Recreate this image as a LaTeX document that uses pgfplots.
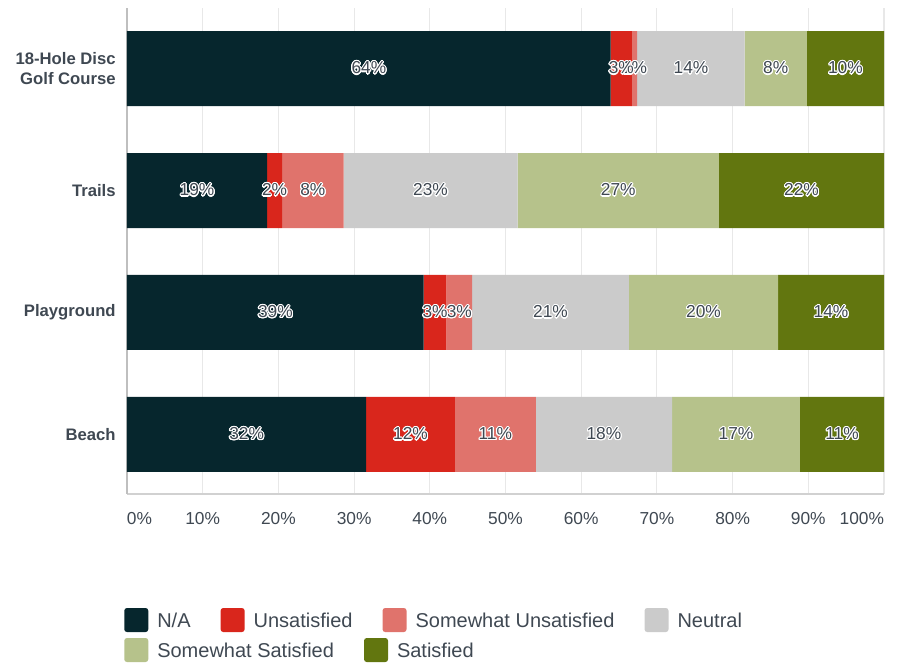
\documentclass[border=0pt]{standalone}
\usepackage{pgfplots}
\pgfplotsset{compat=1.18}
\usepackage{pgfplotstable}
\usepackage{fontspec}
\setmainfont{Liberation Sans}
\usepackage{contour}
\contourlength{0.8pt}
\contournumber{20}

\definecolor{cNA}{HTML}{06262D}
\definecolor{cUns}{HTML}{D9261C}
\definecolor{cSUn}{HTML}{E0736C}
\definecolor{cNeu}{HTML}{CBCBCB}
\definecolor{cSSa}{HTML}{B6C28B}
\definecolor{cSat}{HTML}{62760F}
\definecolor{txt}{HTML}{3F4852}
\definecolor{gridc}{HTML}{E8E8E8}

% share of answers per facility, in percent
\pgfplotstableread{
idx na   uns  sun  neu  ssa  sat
0   63.9 2.8  0.7  14.2 8.2  10.2
1   18.5 2.0  8.1  23.0 26.6 21.8
2   39.2 3.0  3.4  20.7 19.7 14.0
3   31.6 11.7 10.7 18.0 16.9 11.1
}\survey

\pgfplotsset{
  seg/.style 2 args={fill=#2, draw=none,
    visualization depends on={\thisrow{#1} \as \segval}},
  mylegend/.style={
    legend image code/.code={\fill[##1, rounded corners=2pt] (0pt,-9pt) rectangle (18pt,9pt);},
    legend cell align=left,
    legend style={at={(axis description cs:0,0)}, anchor=west, xshift=-2.25pt,
      draw=none, fill=none, inner sep=0pt, column sep=0pt,
      font=\fontsize{15}{18}\selectfont, text=txt,
      nodes={inner sep=0pt, text depth=0pt},
      /tikz/every odd column/.append style={column sep=6.75pt},
      /tikz/every even column/.append style={column sep=22.5pt}},
  },
}

\begin{document}
\begin{tikzpicture}
\begin{axis}[
  name=main,
  xbar stacked,
  scale only axis,
  width=567.75pt, height=364.5pt,
  xmin=0, xmax=100,
  ymin=-0.496, ymax=3.488,
  y dir=reverse,
  bar width=56.25pt,
  ytick={0,1,2,3},
  yticklabels={{18-Hole Disc\\Golf Course},Trails,Playground,Beach},
  yticklabel style={font=\bfseries\fontsize{12.5}{15}\selectfont, text=txt, align=right, xshift=-5pt},
  xtick={0,10,...,100},
  xticklabels={\makebox[0pt][l]{0\%},10\%,20\%,30\%,40\%,50\%,60\%,70\%,80\%,90\%,\makebox[0pt][r]{100\%}},
  xticklabel style={font=\fontsize{13}{15}\selectfont, text=txt, yshift=-10pt},
  major tick length=0pt,
  axis x line*=bottom, axis y line*=left,
  x axis line style={-, draw=black!18, line width=0.8pt},
  y axis line style={-, draw=black!25, line width=0.8pt},
  xmajorgrids=true,
  grid style={draw=gridc, line width=0.8pt},
  /pgf/number format/assume math mode=true,
  nodes near coords={\contour{white}{\pgfmathprintnumber[fixed,precision=0]{\segval}\%}},
  every node near coord/.append style={anchor=center, font=\fontsize{13}{15}\selectfont, text=txt},
  mylegend,
  legend columns=4,
  legend style={yshift=-94.5pt},
]
\addplot[seg={na}{cNA}]   table[x=na,  y=idx] {\survey};
\addplot[seg={uns}{cUns}] table[x=uns, y=idx] {\survey};
\addplot[seg={sun}{cSUn}] table[x=sun, y=idx] {\survey};
\addplot[seg={neu}{cNeu}] table[x=neu, y=idx] {\survey};
\addplot[seg={ssa}{cSSa}] table[x=ssa, y=idx] {\survey};
\addplot[seg={sat}{cSat}] table[x=sat, y=idx] {\survey};
\legend{N/A, Unsatisfied, Somewhat Unsatisfied, Neutral}
\end{axis}
\begin{axis}[
  at={(main.south west)}, anchor=south west,
  scale only axis, width=567.75pt, height=364.5pt,
  hide axis, xmin=0, xmax=1, ymin=0, ymax=1,
  mylegend,
  legend columns=2,
  legend style={yshift=-117pt},
]
\addlegendimage{fill=cSSa, draw=none}
\addlegendentry{Somewhat Satisfied}
\addlegendimage{fill=cSat, draw=none}
\addlegendentry{Satisfied}
\end{axis}
\pgfresetboundingbox
\path[use as bounding box] ([shift={(-95.25pt,-126pt)}]main.south west) rectangle ([shift={(578.25pt,370.5pt)}]main.south west);
\end{tikzpicture}
\end{document}
